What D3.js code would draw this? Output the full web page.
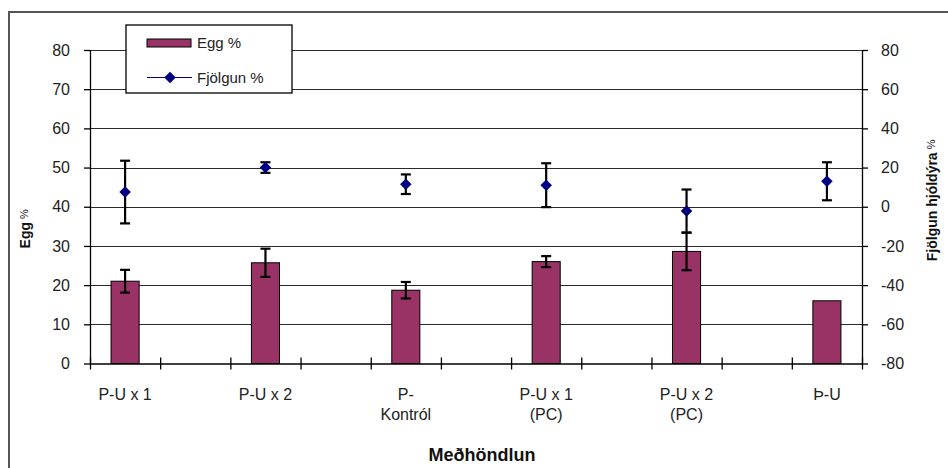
<!DOCTYPE html>
<html>
<head>
<meta charset="utf-8">
<script src="https://cdn.jsdelivr.net/npm/d3@7"></script>
<style>
  html, body { margin: 0; padding: 0; background: #fff; }
  svg { display: block; font-family: "Liberation Sans", Arial, sans-serif; }
</style>
</head>
<body>
<div id="chart"></div>
<script>
// Egg % (bars, left axis) and Fjölgun % (diamonds, right axis) per treatment.
const categories = [["P-U x 1"], ["P-U x 2"], ["P-", "Kontról"], ["P-U x 1", "(PC)"], ["P-U x 2", "(PC)"], ["Þ-U"]];
const eggValues = [21, 25.7, 18.7, 26, 28.6, 16];
const eggErrors = [2.9, 3.6, 2.1, 1.4, 4.8, 0];
const growthValues = [7.5, 20, 11.5, 11, -2.2, 13];
const growthErrors = [16, 2.7, 5, 11.2, 11, 9.7];
const leftTicks = [0, 10, 20, 30, 40, 50, 60, 70, 80];
const rightTicks = [-80, -60, -40, -20, 0, 20, 40, 60, 80];

const W = 948, H = 468;
const m = { t: 50, r: 86, b: 105, l: 90 };
const barColor = "#993366", dotColor = "#000080";

const svg = d3.select("#chart").append("svg").attr("width", W).attr("height", H);

// outer chart frame (runs off the right and bottom edge)
svg.append("rect").attr("x", 9).attr("y", 12).attr("width", 1000).attr("height", 600)
  .attr("fill", "#fff").attr("stroke", "#555").attr("stroke-width", 2);

// 11 slots: categories sit in every other one
const nSlots = categories.length * 2 - 1;
const x = d3.scaleLinear().domain([0, nSlots]).range([m.l, W - m.r]);
const slotW = x(1) - x(0);
const cx = (i) => x(i * 2 + 0.5);
const yL = d3.scaleLinear().domain([0, 80]).range([H - m.b + 0.5, m.t]);
const yR = d3.scaleLinear().domain([-80, 80]).range([H - m.b + 0.5, m.t]);

// gridlines
svg.append("g").selectAll("line").data(leftTicks.slice(1)).join("line")
  .attr("x1", x(0)).attr("x2", x(nSlots))
  .attr("y1", (d) => Math.round(yL(d)) + 0.5).attr("y2", (d) => Math.round(yL(d)) + 0.5)
  .attr("stroke", "#2a2a2a").attr("stroke-width", 1.1);

// bars
svg.append("g").selectAll("rect").data(eggValues).join("rect")
  .attr("x", (d, i) => cx(i) - slotW * 0.2).attr("width", slotW * 0.4)
  .attr("y", (d) => yL(d)).attr("height", (d) => yL(0) - yL(d))
  .attr("fill", barColor).attr("stroke", "#000").attr("stroke-width", 1);

// error bars helper
function errorBars(vals, errs, y) {
  const g = svg.append("g").attr("stroke", "#000").attr("stroke-width", 2.2);
  vals.forEach((v, i) => {
    if (!errs[i]) return;
    const c = cx(i), top = y(v + errs[i]), bot = y(v - errs[i]);
    g.append("line").attr("x1", c).attr("x2", c).attr("y1", top).attr("y2", bot);
    g.append("line").attr("x1", c - 5).attr("x2", c + 5).attr("y1", top).attr("y2", top);
    g.append("line").attr("x1", c - 5).attr("x2", c + 5).attr("y1", bot).attr("y2", bot);
  });
}
errorBars(eggValues, eggErrors, yL);
errorBars(growthValues, growthErrors, yR);

// diamonds
const diamond = d3.symbol().type(d3.symbolDiamond2).size(85);
svg.append("g").selectAll("path").data(growthValues).join("path")
  .attr("transform", (d, i) => `translate(${cx(i)},${yR(d)})`)
  .attr("d", diamond).attr("fill", dotColor);

// axes (plain hyphen for negatives, like the original)
const axisStyle = (g) => {
  g.select(".domain").attr("stroke", "#000").attr("stroke-width", 1.3);
  g.selectAll(".tick line").attr("stroke", "#000").attr("stroke-width", 1.3);
  g.selectAll(".tick text").attr("fill", "#222").style("font-size", "16px");
};
const plain = (d) => String(d);
svg.append("g").attr("transform", `translate(${x(0)},0)`)
  .call(d3.axisLeft(yL).tickValues(leftTicks).tickFormat(plain).tickSize(6).tickSizeOuter(0).tickPadding(14))
  .call(axisStyle);
svg.append("g").attr("transform", `translate(${x(nSlots)},0)`)
  .call(d3.axisRight(yR).tickValues(rightTicks).tickFormat(plain).tickSize(6).tickSizeOuter(0).tickPadding(13))
  .call(axisStyle);
const xAxis = svg.append("g").attr("transform", `translate(0,${yL(0)})`)
  .call(d3.axisBottom(x).tickValues(d3.range(0, nSlots + 1)).tickSize(6).tickSizeOuter(0).tickFormat(""));
xAxis.call(axisStyle);
xAxis.selectAll(".tick line").attr("y1", -6);

// category labels
svg.append("g").selectAll("text").data(categories).join("text")
  .attr("x", (d, i) => cx(i)).attr("y", yL(0) + 36)
  .attr("text-anchor", "middle").attr("fill", "#222").style("font-size", "16px")
  .selectAll("tspan").data((d) => d).join("tspan")
  .attr("x", function () { return this.parentNode.getAttribute("x"); })
  .attr("dy", (d, j) => (j === 0 ? 0 : 20)).text((d) => d);

// axis titles
svg.append("text").attr("x", 482).attr("y", 461).attr("text-anchor", "middle")
  .style("font-size", "18px").style("font-weight", "bold").attr("fill", "#111").text("Meðhöndlun");

const tl = svg.append("text").attr("transform", `translate(30,${(yL(0) + yL(80)) / 2 + 22}) rotate(-90)`)
  .attr("text-anchor", "middle").attr("fill", "#111");
tl.append("tspan").style("font-size", "14px").style("font-weight", "bold").text("Egg");
tl.append("tspan").style("font-size", "11px").attr("dy", -2).text(" %");

const tr = svg.append("text").attr("transform", `translate(937,${(yR(0) + yR(80)) / 2 + 72}) rotate(-90)`)
  .attr("text-anchor", "middle").attr("fill", "#111");
tr.append("tspan").style("font-size", "14px").style("font-weight", "bold").text("Fjölgun hjóldýra");
tr.append("tspan").style("font-size", "11px").attr("dy", -2).text(" %");

// legend
const lg = svg.append("g").attr("transform", "translate(126,25)");
lg.append("rect").attr("width", 166).attr("height", 68).attr("fill", "#fff").attr("stroke", "#000").attr("stroke-width", 1.3);
lg.append("rect").attr("x", 21).attr("y", 14).attr("width", 44).attr("height", 8)
  .attr("fill", barColor).attr("stroke", "#000").attr("stroke-width", 1);
lg.append("text").attr("x", 71).attr("y", 23).style("font-size", "15px").attr("fill", "#222").text("Egg %");
lg.append("line").attr("x1", 21).attr("x2", 66).attr("y1", 52.5).attr("y2", 52.5).attr("stroke", dotColor).attr("stroke-width", 1.2);
lg.append("path").attr("transform", "translate(44,52.5)").attr("d", diamond).attr("fill", dotColor);
lg.append("text").attr("x", 71).attr("y", 58).style("font-size", "15px").attr("fill", "#222").text("Fjölgun %");
</script>
</body>
</html>
